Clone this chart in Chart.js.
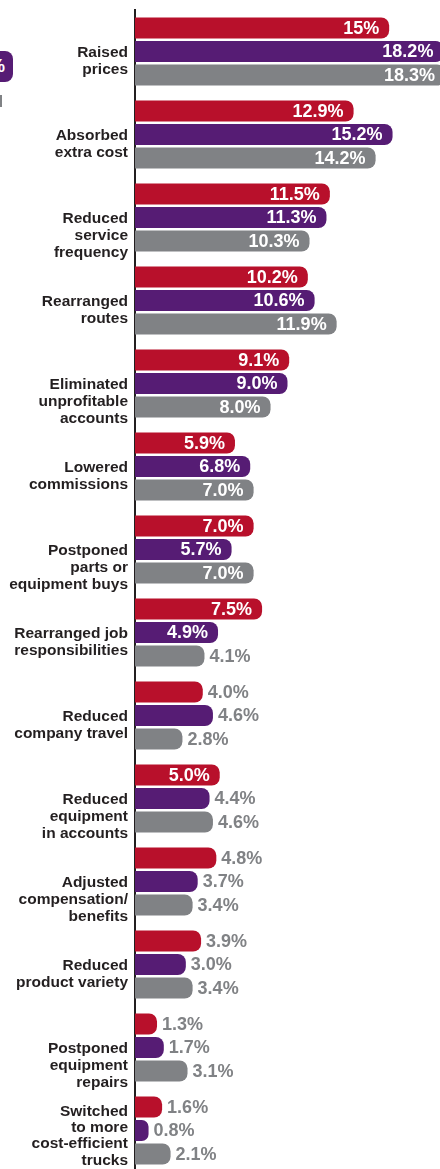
<!DOCTYPE html>
<html>
<head>
<meta charset="utf-8">
<script src="https://cdn.jsdelivr.net/npm/chart.js@4.4.1/dist/chart.umd.min.js"></script>
<style>
    html, body { margin: 0; padding: 0; background: #fff; overflow: hidden; }
    #wrap { position: relative; width: 440px; height: 1172px; }
    /* cut-off legend pieces at the left edge */
    .legend-chip { position: absolute; left: -40px; top: 51px; width: 53px; height: 31px; background: #561c74; border-radius: 8px; color: #fff; font: bold 18px 'Liberation Sans', Arial, sans-serif; line-height: 31px; text-align: right; overflow: hidden; }
    .legend-chip span { position: relative; left: -8px; }
    .legend-gray { position: absolute; left: 0; top: 95px; width: 2px; height: 12px; background: #808285; }
</style>
</head>
<body>
<div id="wrap">
    <canvas id="chart"></canvas>
    <div class="legend-chip"><span>%</span></div>
    <div class="legend-gray"></div>
</div>
<script>
const categories = [
    ['Raised', 'prices'],
    ['Absorbed', 'extra cost'],
    ['Reduced', 'service', 'frequency'],
    ['Rearranged', 'routes'],
    ['Eliminated', 'unprofitable', 'accounts'],
    ['Lowered', 'commissions'],
    ['Postponed', 'parts or', 'equipment buys'],
    ['Rearranged job', 'responsibilities'],
    ['Reduced', 'company travel'],
    ['Reduced', 'equipment', 'in accounts'],
    ['Adjusted', 'compensation/', 'benefits'],
    ['Reduced', 'product variety'],
    ['Postponed', 'equipment', 'repairs'],
    ['Switched', 'to more', 'cost-efficient', 'trucks']
];
const redValues    = [15, 12.9, 11.5, 10.2, 9.1, 5.9, 7.0, 7.5, 4.0, 5.0, 4.8, 3.9, 1.3, 1.6];
const purpleValues = [18.2, 15.2, 11.3, 10.6, 9.0, 6.8, 5.7, 4.9, 4.6, 4.4, 3.7, 3.0, 1.7, 0.8];
const grayValues   = [18.3, 14.2, 10.3, 11.9, 8.0, 7.0, 7.0, 4.1, 2.8, 4.6, 3.4, 3.4, 3.1, 2.1];

const RED = '#b8102b', PURPLE = '#561c74', GRAY = '#808285', INK = '#231f20';
const INSIDE_MIN = 4.85; // shorter bars get their label outside

function fmt(v) {
    return (Number.isInteger(v) && v >= 10) ? v + '%' : v.toFixed(1) + '%';
}

// category labels: first line starts at the middle bar, long ones sit on the bottom bar
const categoryLabels = {
    id: 'categoryLabels',
    afterDraw(chart) {
        const ctx = chart.ctx;
        const mid = chart.getDatasetMeta(1).data;
        const last = chart.getDatasetMeta(2).data;
        const lh = 17;
        ctx.save();
        ctx.font = 'bold 15.5px "Liberation Sans", Arial, sans-serif';
        ctx.fillStyle = INK;
        ctx.textAlign = 'right';
        ctx.textBaseline = 'alphabetic';
        categories.forEach((lines, i) => {
            const pTop = mid[i].y - mid[i].height / 2;
            const gBottom = last[i].y + last[i].height / 2;
            let base = pTop + 16;
            if (lines.length > 3) base = gBottom - (lines.length - 1) * 16.3;
            const step = lines.length > 3 ? 16.3 : lh;
            lines.forEach((t, k) => ctx.fillText(t, chart.chartArea.left - 7, base + k * step));
        });
        ctx.restore();
    }
};

const valueLabels = {
    id: 'valueLabels',
    afterDatasetsDraw(chart) {
        const ctx = chart.ctx;
        ctx.save();
        ctx.font = 'bold 18px "Liberation Sans", Arial, sans-serif';
        ctx.textBaseline = 'middle';
        chart.data.datasets.forEach((ds, d) => {
            chart.getDatasetMeta(d).data.forEach((bar, i) => {
                const v = ds.data[i];
                if (v >= INSIDE_MIN) {
                    ctx.fillStyle = '#fff';
                    ctx.textAlign = 'right';
                    ctx.fillText(fmt(v), bar.x - 10, bar.y + 1);
                } else {
                    ctx.fillStyle = GRAY;
                    ctx.textAlign = 'left';
                    ctx.fillText(fmt(v), bar.x + 5, bar.y + 1);
                }
            });
        });
        ctx.restore();
    }
};

const barStyle = {
    borderSkipped: 'start',
    borderRadius: { topRight: 8, bottomRight: 8, topLeft: 0, bottomLeft: 0 },
    categoryPercentage: 0.85,
    barPercentage: 0.9
};

new Chart(document.getElementById('chart'), {
    type: 'bar',
    data: {
        labels: categories,
        datasets: [
            { label: 'Series 1', data: redValues, backgroundColor: RED, ...barStyle },
            { label: 'Series 2', data: purpleValues, backgroundColor: PURPLE, ...barStyle },
            { label: 'Series 3', data: grayValues, backgroundColor: GRAY, ...barStyle }
        ]
    },
    options: {
        indexAxis: 'y',
        responsive: true,
        maintainAspectRatio: false,
        animation: false,
        layout: { padding: { top: 10, bottom: 0, left: 0, right: 0 } },
        plugins: { legend: { display: false }, tooltip: { enabled: false } },
        scales: {
            x: { display: false, min: 0, max: 18 },
            y: {
                ticks: { display: false },
                grid: { display: false },
                border: { display: true, color: INK, width: 2 },
                afterFit(scale) { scale.width = 135; }
            }
        }
    },
    plugins: [categoryLabels, valueLabels]
});
</script>
</body>
</html>
